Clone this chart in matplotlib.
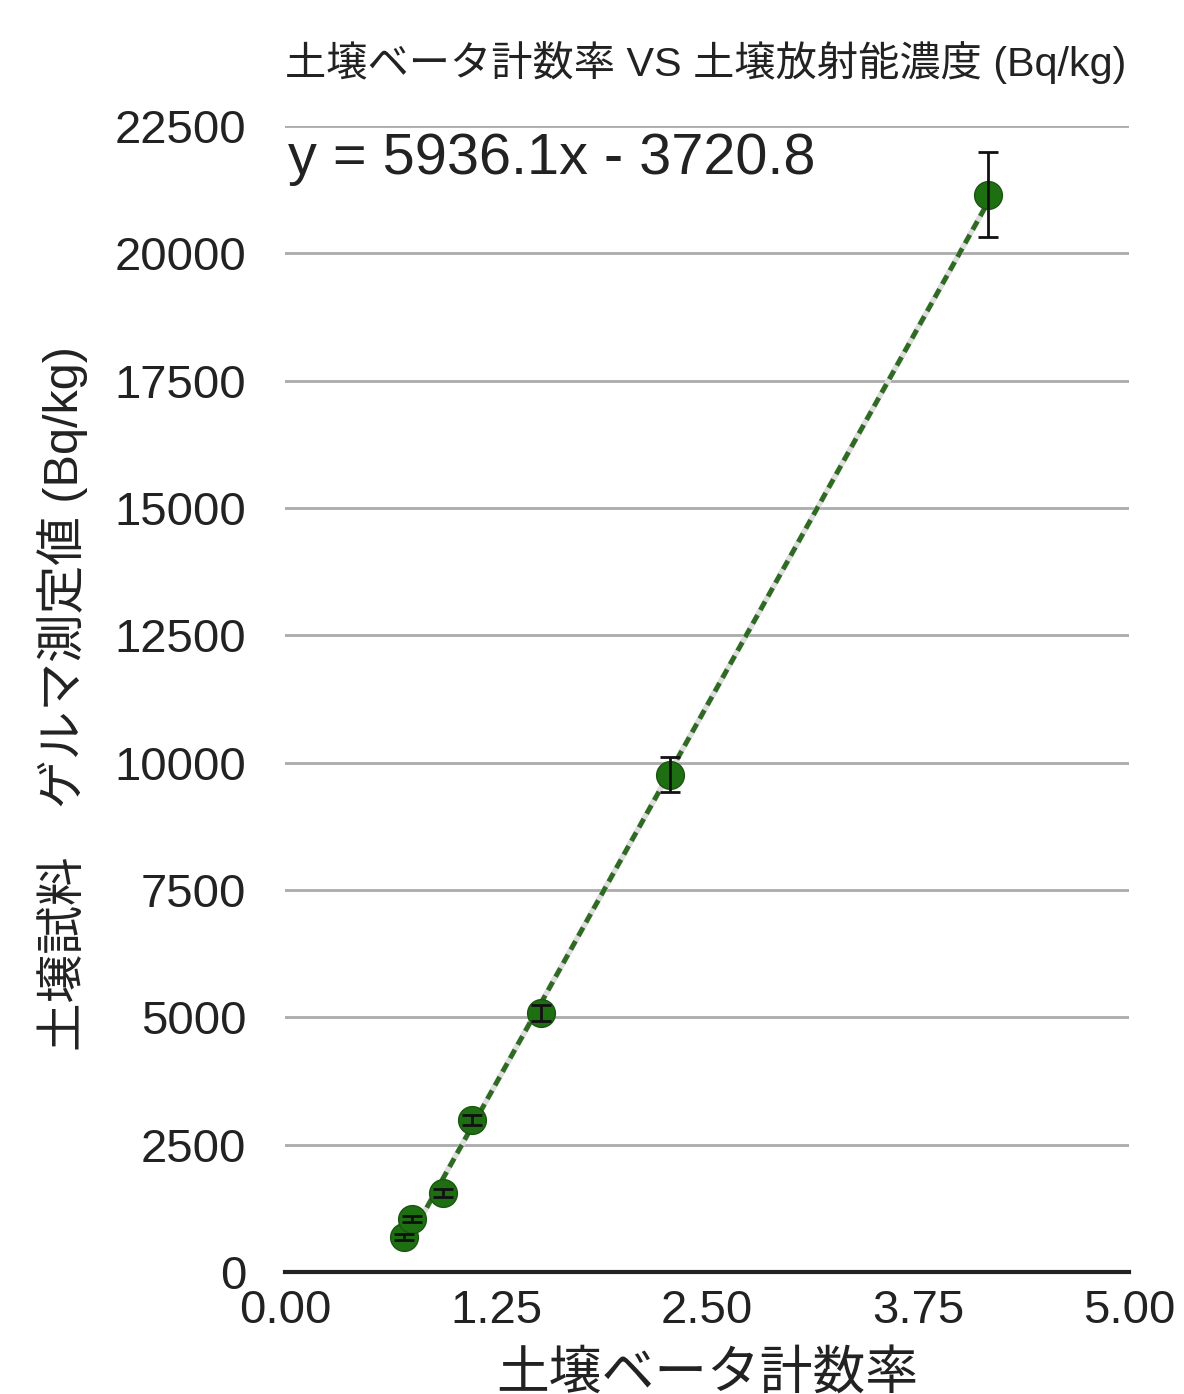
import numpy as np
import matplotlib
matplotlib.use("Agg")
import matplotlib.pyplot as plt

plt.rcParams['font.family'] = ['Liberation Sans', 'Noto Sans CJK JP']

# values
beta_rate = [0.705, 0.752, 0.936, 1.108, 1.517, 2.281, 4.165]
ge_value = [690, 1040, 1550, 2985, 5085, 9760, 21150]
ge_err = [60, 60, 80, 100, 160, 345, 835]

slope = 5936.1
intercept = -3720.8

x_ticks = [0.00, 1.25, 2.50, 3.75, 5.00]
y_ticks = list(range(0, 22501, 2500))

title = "土壌ベータ計数率 VS 土壌放射能濃度 (Bq/kg)"
x_label = "土壌ベータ計数率"
y_label = "土壌試料　ゲルマ測定値 (Bq/kg)"

fig = plt.figure(figsize=(11.84, 13.94), dpi=100)
ax = fig.add_axes([0.2407, 0.0875, 0.7128, 0.8221])

ax.set_xlim(0, 5)
ax.set_ylim(0, 22500)
ax.set_yticks(y_ticks)
ax.set_xticks(x_ticks)
ax.set_xticklabels(["%.2f" % t for t in x_ticks])
ax.yaxis.grid(True, color="#ababab", linewidth=2)
ax.set_axisbelow(True)
for s in ["left", "right", "top"]:
    ax.spines[s].set_visible(False)
ax.spines["bottom"].set_color("#222222")
ax.spines["bottom"].set_linewidth(3)
ax.tick_params(length=0, labelsize=34, colors="#222222", pad=12)
ax.tick_params(axis="y", pad=28)

# trend line over the data range
xs = np.array([min(beta_rate), max(beta_rate)])
ax.plot(xs, slope * xs + intercept, color="#dddddd", linewidth=4, zorder=2)
ax.plot(xs, slope * xs + intercept, color="#2f6a22", linewidth=3.5,
        linestyle=(0, (2, 1.2)), zorder=3)

ax.scatter(beta_rate, ge_value, s=400, color="#1e6f12", edgecolor="#1a5410",
           linewidth=1, zorder=4)
ax.errorbar(beta_rate, ge_value, yerr=ge_err, fmt="none", ecolor="#111111",
            elinewidth=2, capsize=7, capthick=2, zorder=5)

ax.text(0.003, 0.995, "y = 5936.1x - 3720.8", transform=ax.transAxes,
        fontsize=41.5, color="#222222", va="top", ha="left")

fig.text(0.2407, 0.955, title, fontsize=29.7, color="#222222",
         ha="left", va="center")
ax.set_xlabel(x_label, fontsize=38, color="#222222", labelpad=12)
ax.set_ylabel(y_label, fontsize=35, color="#222222")
ax.yaxis.set_label_coords(-0.233, 0.5)

fig.savefig("out.png", dpi=100)
